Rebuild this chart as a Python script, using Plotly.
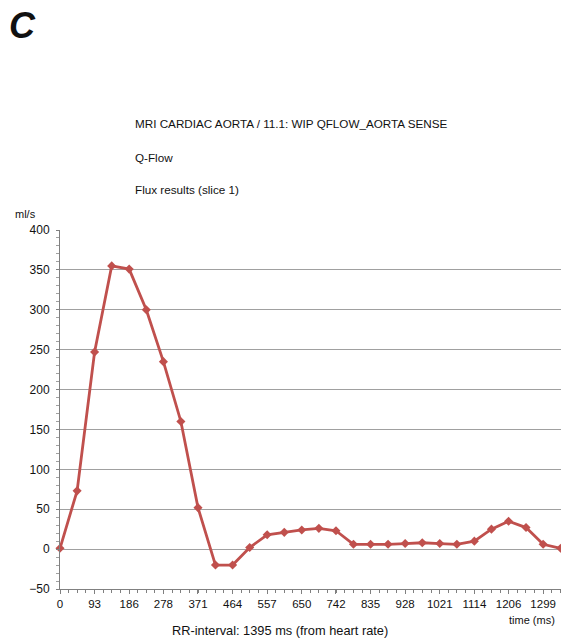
import plotly.graph_objects as go

time_ms = [0, 46, 93, 139, 186, 232, 278, 325, 371, 418, 464, 510, 557, 603, 650,
           696, 742, 789, 835, 882, 928, 974, 1021, 1067, 1114, 1160, 1206, 1253, 1299, 1346]
flow_mls = [1, 73, 247, 355, 351, 300, 235, 160, 52, -20, -20, 2, 18, 21, 24,
            26, 23, 6, 6, 6, 7, 8, 7, 6, 10, 25, 35, 27, 6, 1]
tick_vals = [0, 93, 186, 278, 371, 464, 557, 650, 742, 835, 928, 1021, 1114, 1206, 1299]
tick_text = [str(v) for v in tick_vals]
title_lines = ["MRI CARDIAC AORTA / 11.1: WIP QFLOW_AORTA SENSE", "Q-Flow", "Flux results (slice 1)"]

FONT = "Liberation Sans"
fig = go.Figure()
fig.add_trace(go.Scatter(
    x=time_ms, y=flow_mls, mode="lines+markers",
    line=dict(color="#C0504D", width=2.8),
    marker=dict(symbol="diamond", size=7, color="#C0504D"),
    cliponaxis=False,
))

fig.update_layout(
    width=561, height=638,
    margin=dict(l=60, r=0, t=230, b=49),
    paper_bgcolor="white", plot_bgcolor="white",
    showlegend=False,
    font=dict(family=FONT, size=12, color="#111111"),
)
fig.update_xaxes(
    range=[0, 1347], tickvals=tick_vals, ticktext=tick_text,
    showgrid=False, zeroline=False,
    showline=True, linecolor="#808080", linewidth=1,
    ticks="outside", ticklen=4, tickcolor="#808080",
    minor=dict(dtick=23.2, tick0=0, ticks="outside", ticklen=3, tickcolor="#808080", showgrid=False),
    tickfont=dict(size=11.5),
)
fig.update_yaxes(
    range=[-50, 400], dtick=50,
    showgrid=True, gridcolor="#A0A0A0", gridwidth=1,
    zeroline=True, zerolinecolor="#A0A0A0", zerolinewidth=1,
    showline=True, linecolor="#808080", linewidth=1,
    ticks="outside", ticklen=3, tickcolor="#808080",
    minor=dict(dtick=10, ticks="outside", ticklen=3, tickcolor="#A0A0A0", showgrid=False),
    tickfont=dict(size=12), ticklabelstandoff=4,
)

ys = [123, 157, 190]
for t, y in zip(title_lines, ys):
    fig.add_annotation(text=t, xref="paper", yref="paper", x=(133 - 60) / 501, y=(638 - y - 49) / 359,
                       xanchor="left", yanchor="middle", showarrow=False,
                       font=dict(family=FONT, size=11.7, color="#111111"))

fig.add_annotation(text="ml/s", xref="paper", yref="paper", x=(13 - 60) / 501, y=(638 - 214 - 49) / 359,
                   xanchor="left", yanchor="middle", showarrow=False, font=dict(family=FONT, size=11))
fig.add_annotation(text="RR-interval: 1395 ms (from heart rate)", xref="paper", yref="paper",
                   x=(280 - 60) / 501, y=(638 - 630 - 49) / 359,
                   xanchor="center", yanchor="middle", showarrow=False, font=dict(family=FONT, size=12.8))
fig.add_annotation(text="time (ms)", xref="paper", yref="paper",
                   x=(507 - 60) / 501, y=(638 - 620 - 49) / 359,
                   xanchor="left", yanchor="middle", showarrow=False, font=dict(family=FONT, size=11))
fig.add_annotation(text="C", xref="paper", yref="paper",
                   x=(7 - 60) / 501, y=(638 - 25 - 49) / 359,
                   xanchor="left", yanchor="middle", showarrow=False,
                   font=dict(family="Liberation Sans", size=36, color="#111111", weight="bold", style="italic"))

fig.write_html("out.html")
